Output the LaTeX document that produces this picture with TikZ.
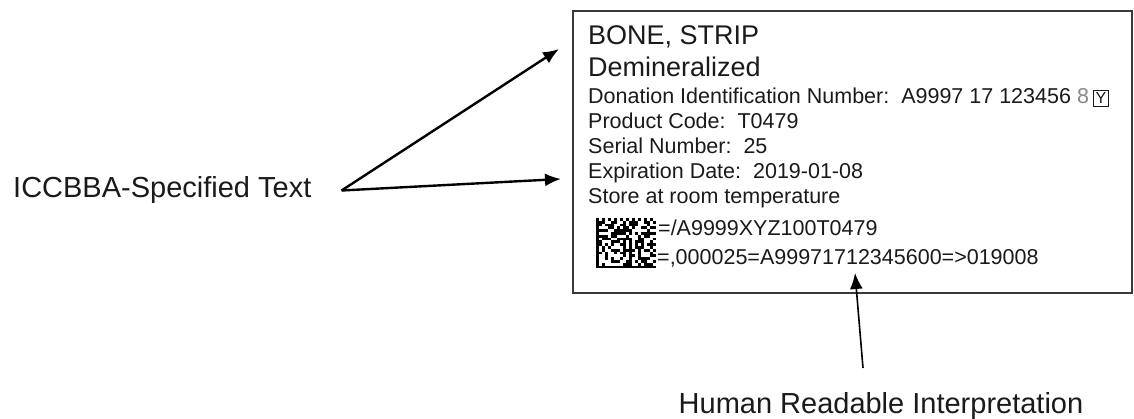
\documentclass[tikz,border=0pt]{standalone}
\usepackage{fontspec}
\setmainfont{Liberation Sans}
\usepackage{xcolor}
\usetikzlibrary{arrows.meta}
\definecolor{label-edge}{HTML}{3A3A3A}
\definecolor{label-ink}{HTML}{1A1A1A}
\definecolor{check-grey}{HTML}{8A8A8A}

\begin{document}
\begin{tikzpicture}[x=1pt, y=-1pt,
    every node/.style={inner sep=0pt, text=label-ink},
    bigtext/.style={font=\fontsize{29}{34}\selectfont},
    titletext/.style={font=\fontsize{27}{32}\selectfont, anchor=base west},
    fieldtext/.style={font=\fontsize{21.5}{25}\selectfont, anchor=base west},
    pointer/.style={-{Latex[length=16pt,width=13pt]}, line width=2.4pt}]
    \useasboundingbox (0,0) rectangle (1134,419);
    % the product label
    \node[draw=label-edge, line width=1.8pt, minimum width=559pt,
          minimum height=282pt] (label) at (852.5,152) {};
    \node[titletext] (bone) at (588,45) {BONE, STRIP};
    \node[titletext] (demin) at (588,77) {Demineralized};
    \node[fieldtext] (din) at (588,104) {Donation Identification Number:\ \ A9997 17 123456
          \textcolor{check-grey}{8}\,{\fboxsep=2pt\fboxrule=1pt\fbox{\fontsize{16}{16}\selectfont Y}}};
    \node[fieldtext] (pcode) at (588,129) {Product Code:\ \ T0479};
    \node[fieldtext] (serial) at (588,154) {Serial Number:\ \ 25};
    \node[fieldtext] (expiry) at (588,179) {Expiration Date:\ \ 2019-01-08};
    \node[fieldtext] (store) at (588,204) {Store at room temperature};
    % 2-D symbol
    \pgfmathsetseed{17}
    \foreach \i in {0,...,19}{
      \foreach \j in {0,...,17}{
        \pgfmathtruncatemacro{\bit}{\i==0 ? 1 : (\j==17 ? 1 : (\j==0 ? (mod(\i,2)==0 ? 1 : 0) : (\i==19 ? (mod(\j,2)==1 ? 1 : 0) : random(0,1))))}
        \ifnum\bit=1
          \fill[black] (596+3*\i,218+2.8*\j) rectangle ++(3.05,2.85);
        \fi
      }
    }
    \node[fieldtext] (bcline1) at (658,236) {=/A9999XYZ100T0479};
    \node[fieldtext] (bcline2) at (657,265) {=,000025=A99971712345600=>019008};
    % callouts
    \node[bigtext, anchor=base west] (icc) at (13,198) {ICCBBA-Specified Text};
    \coordinate (fork) at ([xshift=30pt]icc.east);
    \coordinate (tip-top) at (559,49);
    \coordinate (tip-mid) at (561,179);
    \draw[pointer] (fork) -- (tip-top);
    \draw[pointer] (fork) -- (tip-mid);
    \node[bigtext, anchor=base] (hri) at (881,413) {Human Readable Interpretation};
    \coordinate (hri-tail) at (863,368);
    \coordinate (hri-tip) at (855,273);
    \draw[pointer, line width=1.6pt] (hri-tail) -- (hri-tip);
\end{tikzpicture}
\end{document}
